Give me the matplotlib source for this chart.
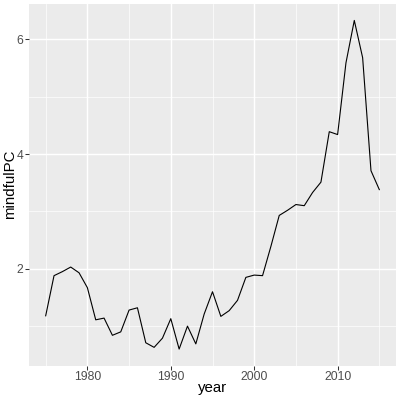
import matplotlib
matplotlib.use("Agg")
import matplotlib.pyplot as plt
import numpy as np

plt.rcParams['font.family'] = ['Liberation Sans', 'DejaVu Sans']

years = list(range(1975, 2016))
mindfulPC = [1.18, 1.88, 1.95, 2.03, 1.93, 1.67, 1.11, 1.14, 0.84, 0.90,
             1.28, 1.32, 0.71, 0.63, 0.79, 1.13, 0.60, 1.00, 0.69, 1.21,
             1.60, 1.17, 1.27, 1.45, 1.85, 1.89, 1.88, 2.39, 2.93, 3.02,
             3.12, 3.10, 3.33, 3.51, 4.39, 4.34, 5.59, 6.33, 5.68, 3.71, 3.38]
x_ticks = [1980, 1990, 2000, 2010]
y_ticks = [2, 4, 6]
x_minor = [1975, 1985, 1995, 2005, 2015]
y_minor = [1, 3, 5]

fig = plt.figure(figsize=(4, 4), dpi=100)
L, R, T, B = 29, 396, 4, 365.5
ax = fig.add_axes([L/400, (400-B)/400, (R-L)/400, (B-T)/400])
ax.set_facecolor("#EBEBEB")
for s in ax.spines.values():
    s.set_visible(False)

ax.plot(years, mindfulPC, color="black", lw=0.8, zorder=3)

ymin, ymax = min(mindfulPC), max(mindfulPC)
pad = (ymax - ymin) * 0.05
ax.set_ylim(ymin - pad, ymax + pad)
ax.set_xlim(years[0] - 2, years[-1] + 2)

ax.set_xticks(x_ticks)
ax.set_yticks(y_ticks)
ax.set_xticks(x_minor, minor=True)
ax.set_yticks(y_minor, minor=True)
ax.grid(which="major", color="white", lw=1.05)
ax.grid(which="minor", color="white", lw=0.5)
ax.set_axisbelow(True)
ax.tick_params(which="major", length=2.7, width=0.75, color="#333333",
               labelsize=8.7, labelcolor="#4D4D4D", pad=1.6)
ax.tick_params(which="minor", length=0)
ax.set_xlabel("year", fontsize=10.8)
ax.set_ylabel("mindfulPC", fontsize=10.8)
ax.xaxis.set_label_coords(0.5, (B - 388) / (B - T))
ax.xaxis.label.set_va("center")
ax.yaxis.set_label_coords((10.5 - L) / (R - L), 0.5)
ax.yaxis.label.set_va("center")

fig.savefig("out.png", dpi=100)
